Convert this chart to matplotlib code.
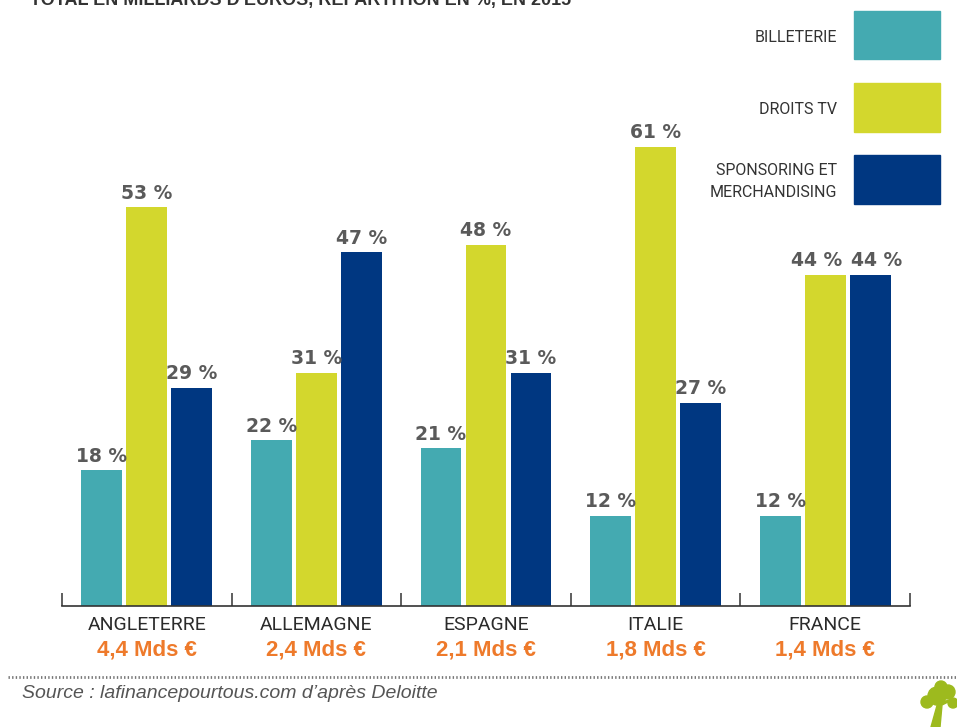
import numpy as np
import matplotlib.pyplot as plt
from matplotlib.patches import Rectangle, Polygon, Ellipse
from matplotlib.lines import Line2D

# Données (en %)
pays = ['ANGLETERRE', 'ALLEMAGNE', 'ESPAGNE', 'ITALIE', 'FRANCE']
totaux = ['4,4 Mds €', '2,4 Mds €', '2,1 Mds €', '1,8 Mds €', '1,4 Mds €']
billeterie = [18, 22, 21, 12, 12]
droits_tv = [53, 31, 48, 61, 44]
sponsoring = [29, 47, 31, 27, 44]

series_labels = ['BILLETERIE', 'DROITS TV', 'SPONSORING ET\nMERCHANDISING']
couleurs = ['#44AAB1', '#D3D72D', '#003781']

W, H = 957, 727
fig = plt.figure(figsize=(W / 100, H / 100), dpi=100)

def fx(px):
    return px / W

def fy(py):
    return 1 - py / H

etroit = ['Roboto', 'DejaVu Sans']

# Axes: ligne de base à y=606 px, de x=62 à x=910 px
base_px = 606
ymax = 70
px_per_unit = 7.53
ax = fig.add_axes([fx(62), fy(base_px), fx(910) - fx(62), ymax * px_per_unit / H])
ax.set_xlim(-0.5, len(pays) - 0.5)
ax.set_ylim(0, ymax)

x = np.arange(len(pays))
largeur = 0.241
pas = 0.265
series = [billeterie, droits_tv, sponsoring]
for k, (vals, c) in enumerate(zip(series, couleurs)):
    pos = x + (k - 1) * pas
    ax.bar(pos, vals, width=largeur, color=c, edgecolor='none', zorder=2)
    for i, (xi, v) in enumerate(zip(pos, vals)):
        # écarter les étiquettes voisines de même hauteur
        dx = 0
        if k == 1 and v == series[2][i]:
            dx = -6
        if k == 2 and v == series[1][i]:
            dx = 5
        ax.annotate(f'{v} %', xy=(xi, v), xytext=(dx, 6), textcoords='offset points',
                    ha='center', va='baseline', fontsize=13.5, fontweight='bold',
                    color='#5a5a5a', family='DejaVu Sans')

for s in ['top', 'right', 'left']:
    ax.spines[s].set_visible(False)
ax.spines['bottom'].set_color('#333333')
ax.spines['bottom'].set_linewidth(1.2)
ax.set_yticks([])
ax.set_xticks(np.arange(-0.5, len(pays), 1.0))
ax.tick_params(axis='x', direction='in', length=9.5, width=1.1, color='#333333',
               labelbottom=False)

for i, (p, t) in enumerate(zip(pays, totaux)):
    ax.annotate(p, xy=(i, 0), xycoords=('data', 'axes fraction'), xytext=(0, -14),
                textcoords='offset points', ha='center', va='center',
                fontsize=14, color='#2b2b2b', family=etroit)
    ax.annotate(t, xy=(i, 0), xycoords=('data', 'axes fraction'), xytext=(0, -32),
                textcoords='offset points', ha='center', va='center',
                fontsize=16, fontweight='bold', color='#EE7A2B',
                family=['Liberation Sans', 'DejaVu Sans'])

# Légende manuelle en haut à droite
boites = [(11, 59), (83, 132), (155, 204)]
for (y0, y1), lab, c in zip(boites, series_labels, couleurs):
    fig.add_artist(Rectangle((fx(854), fy(y1)), fx(940) - fx(854), (y1 - y0) / H,
                             transform=fig.transFigure, color=c))
    fig.text(fx(837), fy((y0 + y1) / 2 + 2), lab, ha='right', va='center',
             fontsize=11.5, color='#333333', family=etroit, linespacing=1.55)

# Titre coupé en haut
fig.text(fx(30), fy(5), "TOTAL EN MILLIARDS D'EUROS, RÉPARTITION EN %, EN 2015",
         ha='left', va='baseline', fontsize=13, fontweight='bold', color='#333333',
         family=['Liberation Sans', 'DejaVu Sans'])

# Ligne pointillée et source
fig.add_artist(Line2D([fx(8), 1], [fy(677), fy(677)], transform=fig.transFigure,
                      color='#777777', linewidth=2, linestyle=(0, (0.5, 0.8))))
fig.text(fx(22), fy(694), 'Source : lafinancepourtous.com d’après Deloitte',
         ha='left', va='center', fontsize=14, style='italic', color='#555555',
         family=['Liberation Sans', 'DejaVu Sans'])

# Petit logo arbre
vert = '#9DBA1E'
fig.add_artist(Polygon([(fx(931), fy(727)), (fx(940), fy(727)), (fx(942), fy(705)),
                        (fx(952), fy(700)), (fx(938), fy(702))],
                       closed=True, transform=fig.transFigure, color=vert))
for cx, cy, r in [(937, 696, 9), (948, 692, 7), (927, 702, 6), (953, 703, 5), (941, 687, 6)]:
    fig.add_artist(Ellipse((fx(cx), fy(cy)), 2 * r / W, 2 * r / H,
                           transform=fig.transFigure, color=vert))

fig.savefig('out.png', dpi=100)
